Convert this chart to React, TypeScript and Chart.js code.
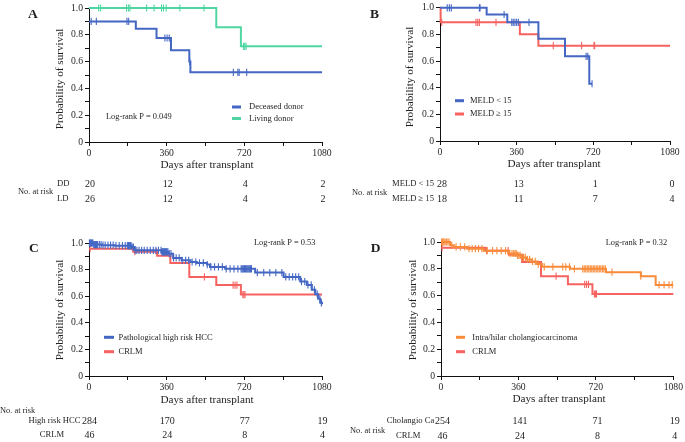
import React, { useEffect, useRef } from "react";
import { Chart, registerables } from "chart.js";

Chart.register(...registerables);

const SERIF = "'Liberation Serif', 'Times New Roman', Times, serif";
const INK = "#1e1e1e";

const BLUE = "#4467c4";
const GREEN = "#50d6a3";
const RED = "#f5625f";
const ORANGE = "#f88c3b";

// ---- axes ----
const xTicks = [0, 180, 360, 540, 720, 900, 1080];
const xTickLabels = ["0", "", "360", "", "720", "", "1080"];
const yTicks = [0, 0.1, 0.2, 0.3, 0.4, 0.5, 0.6, 0.7, 0.8, 0.9, 1.0];
const yTickLabels = ["0", "", "0.2", "", "0.4", "", "0.6", "", "0.8", "", "1.0"];
const riskTimes = [0, 360, 720, 1080];

// ---- Panel A: donor type ----
const ddTimes = [0, 217, 313, 380, 465, 470, 1080];
const ddSurv = [0.9, 0.846, 0.776, 0.684, 0.6, 0.52, 0.52];
const ddCensor = [10, 34, 176, 184, 352, 362, 372, 467, 669, 690, 696, 731];
const ldTimes = [0, 590, 704, 1080];
const ldSurv = [1.0, 0.857, 0.714, 0.714];
const ldCensor = [45, 54, 174, 183, 190, 267, 302, 336, 345, 358, 421, 533, 716, 722, 728];
const ddAtRisk = [20, 12, 4, 2];
const ldAtRisk = [26, 12, 4, 2];

// ---- Panel B: MELD ----
const meldLowTimes = [0, 219, 316, 462, 587, 701, 714];
const meldLowSurv = [1.0, 0.95, 0.891, 0.768, 0.636, 0.43, 0.43];
const meldLowCensor = [34, 44, 53, 185, 188, 301, 337, 344, 352, 360, 368, 418, 686, 694, 714];
const meldHighTimes = [0, 3, 375, 462, 1080];
const meldHighSurv = [1.0, 0.891, 0.802, 0.716, 0.716];
const meldHighCensor = [8, 169, 177, 185, 263, 532, 665, 723, 726];
const meldLowAtRisk = [28, 13, 1, 0];
const meldHighAtRisk = [18, 11, 7, 4];

// ---- Panel C: high risk HCC vs CRLM ----
const hccTimes = [0, 20, 60, 120, 197, 212, 336, 367, 390, 429, 470, 500, 547, 561, 631, 770, 902, 979, 1010, 1033, 1049, 1062, 1072, 1080];
const hccSurv = [1.0, 0.988, 0.984, 0.98, 0.97, 0.945, 0.933, 0.92, 0.888, 0.87, 0.857, 0.85, 0.838, 0.82, 0.806, 0.778, 0.745, 0.71, 0.685, 0.648, 0.615, 0.58, 0.55, 0.54];
const hccCensor = [2, 4, 6, 9, 12, 15, 18, 22, 26, 30, 35, 40, 48, 56, 65, 75, 88, 100, 112, 125, 140, 155, 168, 178, 183, 186, 189, 192, 195, 200, 206, 214, 222, 232, 244, 256, 270, 284, 298, 310, 322, 334, 338, 341, 344, 347, 350, 353, 356, 359, 362, 366, 372, 380, 392, 404, 418, 432, 448, 462, 478, 495, 512, 530, 548, 565, 582, 600, 618, 636, 654, 672, 690, 705, 709, 713, 717, 721, 725, 729, 733, 737, 741, 745, 749, 753, 780, 810, 838, 866, 894, 912, 928, 944, 958, 972, 985, 1000, 1015, 1030, 1045, 1058, 1070, 1077];
const hccAtRisk = [284, 170, 77, 19];

// CRLM (shared by C and D)
const crlmTimes = [0, 205, 316, 377, 465, 590, 704, 1080];
const crlmSurv = [0.957, 0.935, 0.905, 0.85, 0.745, 0.684, 0.612, 0.612];
const crlmCensor = [5, 212, 312, 535, 668, 677, 686, 713, 718, 723];
const crlmAtRisk = [46, 24, 8, 4];

// ---- Panel D: cholangiocarcinoma vs CRLM ----
const choTimes = [0, 43, 60, 122, 198, 313, 352, 373, 398, 421, 445, 470, 600, 767, 929, 998, 1080];
const choSurv = [1.0, 0.975, 0.963, 0.95, 0.935, 0.914, 0.9, 0.885, 0.87, 0.855, 0.835, 0.815, 0.8, 0.775, 0.745, 0.68, 0.68];
const choCensor = [3, 6, 10, 14, 19, 25, 32, 38, 50, 70, 90, 110, 130, 145, 160, 175, 190, 215, 240, 260, 280, 300, 320, 330, 338, 344, 350, 356, 362, 368, 376, 384, 392, 402, 412, 425, 438, 452, 480, 520, 566, 580, 597, 620, 659, 666, 673, 680, 687, 694, 701, 708, 715, 722, 729, 736, 743, 750, 757, 764, 795, 929, 1014, 1037, 1060, 1075];
const choAtRisk = [254, 141, 71, 19];

type Series = { label: string; times: number[]; surv: number[]; censor: number[]; color: string };
type RiskRow = { label: string; x: number; y: number; align: CanvasTextAlign; values: number[] };
type Spec = {
  id: string;
  letter: string;
  letterPos: [number, number];
  left: number;
  top: number;
  width: number;
  height: number;
  padding: { left: number; top: number; right: number; bottom: number };
  series: Series[];
  yTitle: [number, number];
  xTitle: [number, number];
  legend: { y: number[]; x0: number; x1: number; tx: number };
  logrank?: { text: string; x: number; y: number };
  noAtRisk: [number, number];
  rows: RiskRow[];
  dx: number;
};

const survAt = (times: number[], surv: number[], t: number) => {
  let v = surv[0];
  for (let i = 0; i < times.length; i++) if (times[i] <= t) v = surv[i];
  return v;
};

const YW = 30;
const XH = 20;

function decorPlugin(spec: Spec) {
  return {
    id: "decor" + spec.id,
    afterDraw(chart: any) {
      const ctx: CanvasRenderingContext2D = chart.ctx;
      const xs = chart.scales.x;
      ctx.save();
      const text = (s: string, x: number, y: number, size: number, align: CanvasTextAlign = "left", weight = "normal") => {
        ctx.font = `${weight} ${size}px ${SERIF}`;
        ctx.fillStyle = INK;
        ctx.textAlign = align;
        ctx.textBaseline = "middle";
        ctx.fillText(s, x, y);
      };
      text(spec.letter, spec.letterPos[0], spec.letterPos[1], 13.5, "left", "bold");
      ctx.save();
      ctx.translate(spec.yTitle[0], spec.yTitle[1]);
      ctx.rotate(-Math.PI / 2);
      text("Probability of survival", 0, 0, 11.2, "center");
      ctx.restore();
      text("Days after transplant", spec.xTitle[0], spec.xTitle[1], 11.2, "center");
      spec.series.forEach((s, i) => {
        const y = spec.legend.y[i];
        ctx.strokeStyle = s.color;
        ctx.lineWidth = 3;
        ctx.beginPath();
        ctx.moveTo(spec.legend.x0, y);
        ctx.lineTo(spec.legend.x1, y);
        ctx.stroke();
        text(s.label, spec.legend.tx, y, 8.5);
      });
      if (spec.logrank) text(spec.logrank.text, spec.logrank.x, spec.logrank.y, 8.4);
      text("No. at risk", spec.noAtRisk[0], spec.noAtRisk[1], 8.4);
      spec.rows.forEach((row) => {
        text(row.label, row.x, row.y, 8.6, row.align);
        row.values.forEach((v, j) => {
          text(String(v), xs.getPixelForValue(riskTimes[j]) + spec.dx, row.y, 10, "center");
        });
      });
      ctx.restore();
    },
  };
}

function makeConfig(spec: Spec): any {
  const datasets: any[] = [];
  spec.series.forEach((s) => {
    datasets.push({
      label: s.label + " censored",
      data: s.censor.map((c) => ({ x: c, y: survAt(s.times, s.surv, c) })),
      showLine: false,
      pointStyle: "line",
      rotation: 90,
      pointRadius: 3.6,
      pointBorderWidth: 1.1,
      pointBorderColor: s.color,
      pointBackgroundColor: s.color,
      borderColor: s.color,
      clip: false,
    });
    datasets.push({
      label: s.label,
      data: s.times.map((t, i) => ({ x: t, y: s.surv[i] })),
      borderColor: s.color,
      borderWidth: 2,
      stepped: true,
      pointRadius: 0,
      fill: false,
      clip: false,
    });
  });
  const tickFont = { family: SERIF, size: 9.7 };
  return {
    type: "line",
    data: { datasets },
    options: {
      responsive: false,
      maintainAspectRatio: false,
      animation: false,
      devicePixelRatio: 1,
      events: [],
      layout: { padding: spec.padding },
      plugins: { legend: { display: false }, tooltip: { enabled: false } },
      scales: {
        x: {
          type: "linear",
          min: 0,
          max: 1080,
          afterBuildTicks: (s: any) => {
            s.ticks = xTicks.map((v) => ({ value: v }));
          },
          afterFit: (s: any) => {
            s.height = XH;
          },
          ticks: {
            autoSkip: false,
            maxRotation: 0,
            padding: 2,
            color: INK,
            font: tickFont,
            callback: (_v: any, i: number) => xTickLabels[i],
          },
          grid: { drawOnChartArea: false, drawTicks: true, tickLength: 4, color: "#111", tickColor: "#111", lineWidth: 1 },
          border: { display: true, color: "#111", width: 1 },
        },
        y: {
          type: "linear",
          min: 0,
          max: 1,
          afterBuildTicks: (s: any) => {
            s.ticks = yTicks.map((v) => ({ value: v }));
          },
          afterFit: (s: any) => {
            s.width = YW;
          },
          ticks: {
            autoSkip: false,
            padding: 2,
            color: INK,
            font: tickFont,
            callback: (_v: any, i: number) => yTickLabels[i],
          },
          grid: { drawOnChartArea: false, drawTicks: true, tickLength: 4, color: "#111", tickColor: "#111", lineWidth: 1 },
          border: { display: true, color: "#111", width: 1 },
        },
      },
    },
    plugins: [decorPlugin(spec)],
  };
}

const specs: Spec[] = [
  {
    id: "A",
    letter: "A",
    letterPos: [28, 15],
    left: 0,
    top: 0,
    width: 342,
    height: 220,
    padding: { left: 59, top: 8, right: 20, bottom: 58 },
    series: [
      { label: "Deceased donor", times: ddTimes, surv: ddSurv, censor: ddCensor, color: BLUE },
      { label: "Living donor", times: ldTimes, surv: ldSurv, censor: ldCensor, color: GREEN },
    ],
    yTitle: [60, 79],
    xTitle: [207, 165],
    legend: { y: [107, 118.5], x0: 232, x1: 241, tx: 249 },
    logrank: { text: "Log-rank P = 0.049", x: 106, y: 117 },
    noAtRisk: [18, 192],
    rows: [
      { label: "DD", x: 57, y: 184, align: "left", values: ddAtRisk },
      { label: "LD", x: 57, y: 199, align: "left", values: ldAtRisk },
    ],
    dx: 1,
  },
  {
    id: "B",
    letter: "B",
    letterPos: [28, 15],
    left: 342,
    top: 0,
    width: 343,
    height: 220,
    padding: { left: 68, top: 6, right: 15, bottom: 59 },
    series: [
      { label: "MELD < 15", times: meldLowTimes, surv: meldLowSurv, censor: meldLowCensor, color: BLUE },
      { label: "MELD \u2265 15", times: meldHighTimes, surv: meldHighSurv, censor: meldHighCensor, color: RED },
    ],
    yTitle: [68, 77],
    xTitle: [212, 164],
    legend: { y: [100.7, 114], x0: 113, x1: 122, tx: 128 },
    noAtRisk: [10, 192.5],
    rows: [
      { label: "MELD < 15", x: 50, y: 184, align: "left", values: meldLowAtRisk },
      { label: "MELD \u2265 15", x: 50, y: 199, align: "left", values: meldHighAtRisk },
    ],
    dx: 2,
  },
  {
    id: "C",
    letter: "C",
    letterPos: [29, 28.5],
    left: 0,
    top: 220,
    width: 342,
    height: 222,
    padding: { left: 59, top: 23, right: 20, bottom: 46 },
    series: [
      { label: "Pathological high risk HCC", times: hccTimes, surv: hccSurv, censor: hccCensor, color: BLUE },
      { label: "CRLM", times: crlmTimes, surv: crlmSurv, censor: crlmCensor, color: RED },
    ],
    yTitle: [60, 90],
    xTitle: [207, 180],
    legend: { y: [117.3, 131.7], x0: 104, x1: 114, tx: 118.5 },
    logrank: { text: "Log-rank P = 0.53", x: 254, y: 23 },
    noAtRisk: [0, 191],
    rows: [
      { label: "High risk HCC", x: 54.5, y: 201, align: "center", values: hccAtRisk },
      { label: "CRLM", x: 52, y: 215, align: "center", values: crlmAtRisk },
    ],
    dx: 0.5,
  },
  {
    id: "D",
    letter: "D",
    letterPos: [28.7, 29],
    left: 342,
    top: 220,
    width: 343,
    height: 222,
    padding: { left: 69, top: 22, right: 11, bottom: 46 },
    series: [
      { label: "Intra/hilar cholangiocarcinoma", times: choTimes, surv: choSurv, censor: choCensor, color: ORANGE },
      { label: "CRLM", times: crlmTimes, surv: crlmSurv, censor: crlmCensor, color: RED },
    ],
    yTitle: [70.7, 90],
    xTitle: [217, 179.3],
    legend: { y: [117.3, 131.7], x0: 114, x1: 123, tx: 130.3 },
    logrank: { text: "Log-rank P = 0.32", x: 263.7, y: 22.7 },
    noAtRisk: [8, 211],
    rows: [
      { label: "Cholangio Ca", x: 92.3, y: 201, align: "right", values: choAtRisk },
      { label: "CRLM", x: 66.3, y: 216, align: "center", values: crlmAtRisk },
    ],
    dx: 1.5,
  },
];

function Panel({ spec }: { spec: Spec }) {
  const ref = useRef<HTMLCanvasElement>(null);
  useEffect(() => {
    const chart = new Chart(ref.current as HTMLCanvasElement, makeConfig(spec));
    return () => chart.destroy();
  }, [spec]);
  return (
    <canvas
      ref={ref}
      width={spec.width}
      height={spec.height}
      style={{ position: "absolute", left: spec.left, top: spec.top, width: spec.width, height: spec.height }}
    />
  );
}

export default function App() {
  return (
    <div style={{ position: "fixed", left: 0, top: 0, width: 685, height: 442, background: "#fff", overflow: "hidden" }}>
      {specs.map((s) => (
        <Panel key={s.id} spec={s} />
      ))}
    </div>
  );
}
